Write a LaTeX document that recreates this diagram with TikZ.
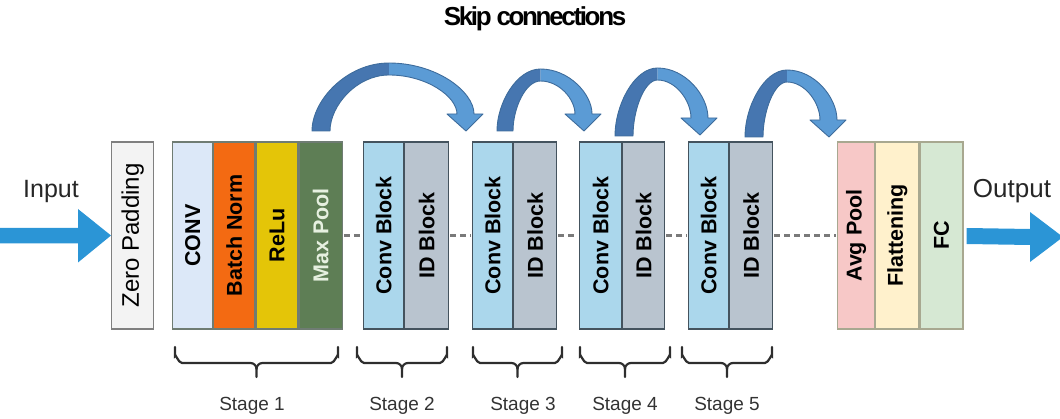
\documentclass[tikz,border=0pt]{standalone}
\usepackage{fontspec}
\setmainfont{Liberation Sans}
\setsansfont{Liberation Sans}
\newfontfamily\titlefont{Liberation Sans}[LetterSpace=-9]
\usetikzlibrary{calc}

\definecolor{zpfill}{HTML}{F3F3F3}
\definecolor{zpline}{HTML}{7F7F7F}
\definecolor{convfill}{HTML}{DCE8F8}
\definecolor{bnfill}{HTML}{F36A12}
\definecolor{relufill}{HTML}{E4C508}
\definecolor{mpfill}{HTML}{5E7E55}
\definecolor{mptext}{HTML}{E6F0E0}
\definecolor{cbfill}{HTML}{ABD7EC}
\definecolor{idfill}{HTML}{B9C4CF}
\definecolor{blkline}{HTML}{44535E}
\definecolor{s1line}{HTML}{6F7C73}
\definecolor{avgfill}{HTML}{F7C8C7}
\definecolor{flatfill}{HTML}{FFF1CC}
\definecolor{fcfill}{HTML}{D6E8D3}
\definecolor{headline}{HTML}{A8A890}
\definecolor{ioblue}{HTML}{2B95D6}
\definecolor{skipdarkc}{HTML}{4676B0}
\definecolor{skiplightc}{HTML}{5B9BD5}
\definecolor{skipedge}{HTML}{3E6C9C}
\definecolor{bracec}{HTML}{2E2E2E}
\definecolor{dashc}{HTML}{7A7A7A}

% thick curved skip arrow: outer tail x, inner tail x, tail y, outer top y, tip x, tip y
\newcommand\skiparrow[6]{%
  \pgfmathsetmacro\skxm{(#1+#5)/2}%
  \pgfmathsetmacro\skyh{#6-17}%
  \pgfmathsetmacro\skyi{#4+12}%
  \pgfmathsetmacro\sknl{#5-9}%
  \pgfmathsetmacro\sknr{#5+8}%
  \pgfmathsetmacro\skwl{#5-19}%
  \pgfmathsetmacro\skwr{#5+17}%
  % rising half, darker
  \fill[skipdark] (#1,#3) .. controls (#1,{#4+0.55*(#3-#4)}) and ({\skxm-0.55*(\skxm-#1)},#4) .. (\skxm,#4)
    -- (\skxm,\skyi) .. controls ({\skxm-0.55*(\skxm-#2)},\skyi) and (#2,{\skyi+0.55*(#3-\skyi)}) .. (#2,#3) -- cycle;
  % falling half with the head, lighter
  \fill[skiplight] (\skxm,#4) .. controls ({\skxm+0.55*(\sknr-\skxm)},#4) and (\sknr,{#4+0.55*(\skyh-#4)}) .. (\sknr,\skyh)
    -- (\skwr,\skyh) -- (#5,#6) -- (\skwl,\skyh) -- (\sknl,\skyh)
    .. controls (\sknl,{\skyi+0.55*(\skyh-\skyi)}) and ({\skxm+0.55*(\sknl-\skxm)},\skyi) .. (\skxm,\skyi) -- cycle;
  % one outline round the whole arrow
  \draw[skipoutline] (#1,#3) .. controls (#1,{#4+0.55*(#3-#4)}) and ({\skxm-0.55*(\skxm-#1)},#4) .. (\skxm,#4)
    .. controls ({\skxm+0.55*(\sknr-\skxm)},#4) and (\sknr,{#4+0.55*(\skyh-#4)}) .. (\sknr,\skyh)
    -- (\skwr,\skyh) -- (#5,#6) -- (\skwl,\skyh) -- (\sknl,\skyh)
    .. controls (\sknl,{\skyi+0.55*(\skyh-\skyi)}) and ({\skxm+0.55*(\sknl-\skxm)},\skyi) .. (\skxm,\skyi)
    .. controls ({\skxm-0.55*(\skxm-#2)},\skyi) and (#2,{\skyi+0.55*(#3-\skyi)}) .. (#2,#3) -- cycle;
}

% curly brace under a stage: left x, right x
\newcommand\stagebrace[2]{%
  \pgfmathsetmacro\bxm{(#1+#2)/2}%
  \draw[bracestyle] (#1,347) -- (#1,356) to[out=90,in=180] (#1+7,363) -- (\bxm-6,363)
    to[out=0,in=90] (\bxm,369) -- (\bxm,377);
  \draw[bracestyle] (\bxm,369) to[out=90,in=180] (\bxm+6,363) -- (#2-7,363)
    to[out=0,in=90] (#2,356) -- (#2,347);
}

\begin{document}
\begin{tikzpicture}[x=1pt,y=-1pt,
  blk/.style={draw=blkline, line width=1.2pt, minimum height=187pt, inner sep=0pt, anchor=west,
    font=\fontsize{21.5}{24}\selectfont\bfseries},
  s1blk/.style={blk, draw=s1line},
  headblk/.style={blk, draw=headline},
  dashline/.style={dashc, line width=2.6pt, dash pattern=on 6pt off 4pt},
  skipdark/.style={fill=skipdarkc},
  skiplight/.style={fill=skiplightc},
  skipoutline/.style={draw=skipedge, line width=0.9pt, line join=round},
  bracestyle/.style={draw=bracec, line width=2.2pt, line cap=round},
  stagelbl/.style={anchor=base, text=black!80, font=\fontsize{19}{21}\selectfont},
  iolbl/.style={anchor=base, text=black!85, font=\fontsize{25}{28}\selectfont},
  ioarrow/.style={fill=ioblue}
]
\useasboundingbox (0,0) rectangle (1060,419);

% title
\node[anchor=base, font=\titlefont\fontsize{26}{30}\selectfont\bfseries] (title) at (535,26) {Skip connections};

% zero padding
\node[blk, draw=zpline, fill=zpfill, minimum width=42pt, font=\fontsize{24}{26}\selectfont] (zp) at (111,235.5)
  {\rotatebox{90}{Zero Padding}};

% stage 1
\node[s1blk, fill=convfill, minimum width=40pt] (conv) at (172,235.5) {\rotatebox{90}{CONV}};
\node[s1blk, fill=bnfill, minimum width=41pt] (bn) at (conv.east) {\rotatebox{90}{Batch Norm}};
\node[s1blk, fill=relufill, minimum width=42pt] (relu) at (bn.east) {\rotatebox{90}{ReLu}};
\node[s1blk, fill=mpfill, minimum width=43pt, text=mptext] (mp) at (relu.east) {\rotatebox{90}{Max Pool}};

% stages 2 to 5
\node[blk, fill=cbfill, minimum width=40pt] (cb2) at (363,235.5) {\rotatebox{90}{Conv Block}};
\node[blk, fill=idfill, minimum width=44pt] (id2) at (cb2.east) {\rotatebox{90}{ID Block}};
\node[blk, fill=cbfill, minimum width=40pt] (cb3) at (472,235.5) {\rotatebox{90}{Conv Block}};
\node[blk, fill=idfill, minimum width=43pt] (id3) at (cb3.east) {\rotatebox{90}{ID Block}};
\node[blk, fill=cbfill, minimum width=42pt] (cb4) at (579,235.5) {\rotatebox{90}{Conv Block}};
\node[blk, fill=idfill, minimum width=42pt] (id4) at (cb4.east) {\rotatebox{90}{ID Block}};
\node[blk, fill=cbfill, minimum width=40pt] (cb5) at (688,235.5) {\rotatebox{90}{Conv Block}};
\node[blk, fill=idfill, minimum width=43pt] (id5) at (cb5.east) {\rotatebox{90}{ID Block}};

% head
\node[headblk, fill=avgfill, minimum width=37pt] (avg) at (837,235.5) {\rotatebox{90}{Avg Pool}};
\node[headblk, fill=flatfill, minimum width=43pt] (flat) at (avg.east) {\rotatebox{90}{Flattening}};
\node[headblk, fill=fcfill, minimum width=43pt] (fc) at (flat.east) {\rotatebox{90}{FC}};

% dotted links between stages
\draw[dashline] ([xshift=1pt]mp.east) -- ([xshift=-1pt]cb2.west);
\draw[dashline] ([xshift=1pt]id2.east) -- ([xshift=-1pt]cb3.west);
\draw[dashline] ([xshift=1pt]id3.east) -- ([xshift=-1pt]cb4.west);
\draw[dashline] ([xshift=1pt]id4.east) -- ([xshift=-1pt]cb5.west);
\draw[dashline] ([xshift=1pt]id5.east) -- ([xshift=-1pt]avg.west);

% input and output arrows
\coordinate (inbeg) at (0,236.5);
\coordinate (outend) at (1063,237);
\fill[ioarrow] (inbeg) ++(0,-8.5) -- ++(78,0) -- ++(0,-19) -- (zp.west) -- ++(-33,27) -- ++(0,-19) -- ++(-78,0) -- cycle;
\fill[ioarrow] (outend) -- ++(-33,-25) -- ++(0,17) -- ($(fc.east)+(3,-7.5)$) -- ++(0,16) -- ($(outend)+(-33,8)$) -- ++(0,17) -- cycle;
\node[iolbl] (inlbl) at (51,198) {Input};
\node[iolbl, font=\fontsize{26}{28}\selectfont] (outlbl) at (1012,198) {Output};

% skip connections
\skiparrow{312}{330}{131}{63}{466}{131}
\skiparrow{497}{513}{131}{69}{584}{131}
\skiparrow{615}{633}{136}{68}{700}{135}
\skiparrow{745}{763}{137}{70}{829}{137}

% stage braces and labels
\stagebrace{175}{338}
\stagebrace{357}{447}
\stagebrace{473}{562}
\stagebrace{580}{670}
\stagebrace{682}{772}
\node[stagelbl] (st1) at (252,410) {Stage 1};
\node[stagelbl] (st2) at (402,410) {Stage 2};
\node[stagelbl] (st3) at (523,410) {Stage 3};
\node[stagelbl] (st4) at (625,410) {Stage 4};
\node[stagelbl] (st5) at (727,410) {Stage 5};
\end{tikzpicture}
\end{document}
